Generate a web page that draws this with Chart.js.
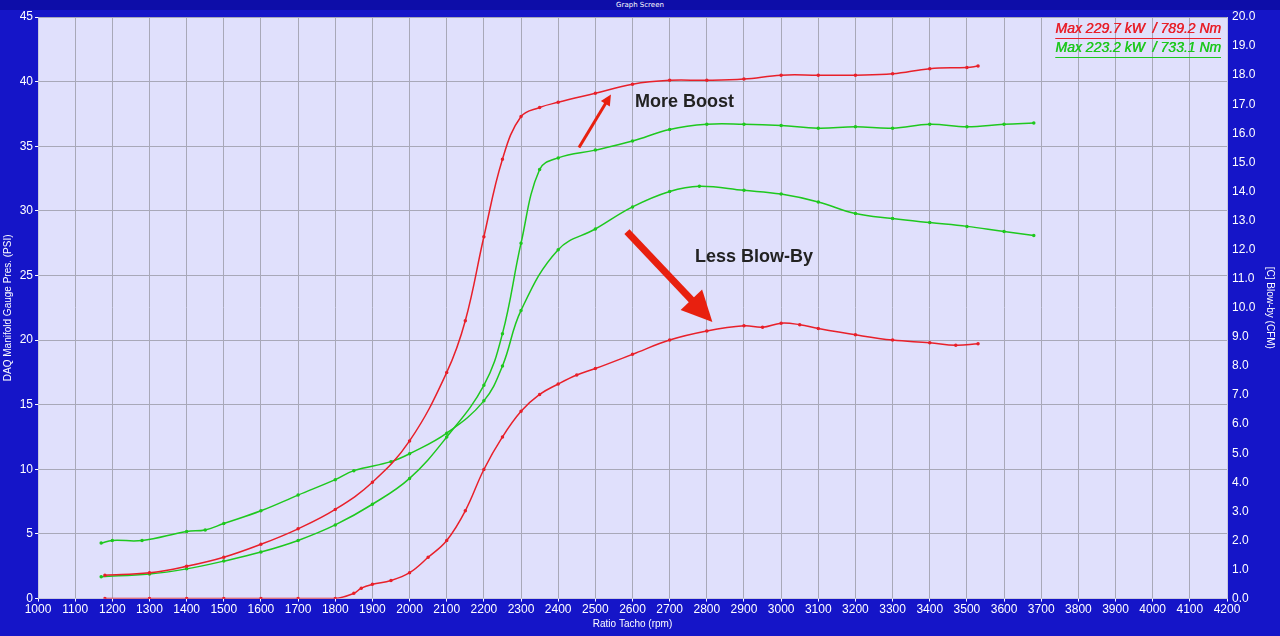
<!DOCTYPE html>
<html>
<head>
<meta charset="utf-8">
<script src="https://cdn.jsdelivr.net/npm/chart.js@4"></script>
<style>
html, body { margin: 0; padding: 0; background: #1515c8; }
#bar { position: absolute; left: 0; top: 0; width: 1280px; height: 10px; background: #0d0da8;
  color: #fff; font: 7px "DejaVu Sans", sans-serif; text-align: center; line-height: 10px; }
#wrap { position: absolute; left: 0; top: 0; width: 1280px; height: 636px; }
</style>
</head>
<body>
<div id="wrap"><canvas id="c"></canvas></div>
<div id="bar">Graph Screen</div>
<script>
const rpmBoostRed = [1180, 1300, 1400, 1500, 1600, 1700, 1800, 1900, 2000, 2100, 2150, 2200, 2250, 2300, 2350, 2400, 2500, 2600, 2700, 2800, 2900, 3000, 3100, 3200, 3300, 3400, 3500, 3530];
const boostRed = [1.8, 2.0, 2.5, 3.2, 4.2, 5.4, 6.9, 9.0, 12.2, 17.5, 21.5, 28.0, 34.0, 37.3, 38.0, 38.4, 39.1, 39.8, 40.1, 40.1, 40.2, 40.5, 40.5, 40.5, 40.6, 41.0, 41.1, 41.2];

const rpmBoostGreen = [1170, 1300, 1400, 1500, 1600, 1700, 1800, 1900, 2000, 2100, 2200, 2250, 2300, 2350, 2400, 2500, 2600, 2700, 2800, 2900, 3000, 3100, 3200, 3300, 3400, 3500, 3600, 3680];
const boostGreen = [1.7, 1.9, 2.3, 2.9, 3.6, 4.5, 5.7, 7.3, 9.3, 12.5, 16.5, 20.5, 27.5, 33.2, 34.1, 34.7, 35.4, 36.3, 36.7, 36.7, 36.6, 36.4, 36.5, 36.4, 36.7, 36.5, 36.7, 36.8];

const rpmBlowGreen = [1170, 1200, 1280, 1400, 1450, 1500, 1600, 1700, 1800, 1850, 1950, 2000, 2100, 2200, 2250, 2300, 2400, 2500, 2600, 2700, 2780, 2900, 3000, 3100, 3200, 3300, 3400, 3500, 3600, 3680];
const blowGreen = [1.91, 2.0, 2.0, 2.31, 2.36, 2.58, 3.02, 3.56, 4.09, 4.4, 4.71, 4.98, 5.69, 6.8, 8.0, 9.91, 12.0, 12.71, 13.47, 14.0, 14.18, 14.04, 13.91, 13.64, 13.24, 13.07, 12.93, 12.8, 12.62, 12.49];

const rpmBlowRed = [1180, 1300, 1400, 1500, 1600, 1700, 1800, 1850, 1870, 1900, 1950, 2000, 2050, 2100, 2150, 2200, 2250, 2300, 2350, 2400, 2450, 2500, 2600, 2700, 2800, 2900, 2950, 3000, 3050, 3100, 3200, 3300, 3400, 3470, 3530];
const blowRed = [0, 0, 0, 0, 0, 0, 0, 0.18, 0.36, 0.49, 0.62, 0.89, 1.42, 2.0, 3.02, 4.44, 5.56, 6.44, 7.02, 7.38, 7.69, 7.91, 8.4, 8.89, 9.2, 9.38, 9.33, 9.47, 9.42, 9.29, 9.07, 8.89, 8.8, 8.71, 8.76];

const legendLines = ["Max 229.7 kW  / 789.2 Nm", "Max 223.2 kW  / 733.1 Nm"];

const red = "#e8202a", green = "#1ec81e";
const pts = (xs, ys) => xs.map((x, i) => ({ x: x, y: ys[i] }));

function arrow(ctx, x1, y1, x2, y2, w, head) {
    const a = Math.atan2(y2 - y1, x2 - x1);
    ctx.strokeStyle = ctx.fillStyle = "#e8200f";
    ctx.lineWidth = w;
    ctx.beginPath();
    ctx.moveTo(x1, y1);
    ctx.lineTo(x2 - Math.cos(a) * head * 0.8, y2 - Math.sin(a) * head * 0.8);
    ctx.stroke();
    ctx.beginPath();
    ctx.moveTo(x2, y2);
    ctx.lineTo(x2 - head * Math.cos(a - 0.45), y2 - head * Math.sin(a - 0.45));
    ctx.lineTo(x2 - head * Math.cos(a + 0.45), y2 - head * Math.sin(a + 0.45));
    ctx.closePath();
    ctx.fill();
}

const notes = {
    id: "notes",
    beforeDraw(chart) {
        const { ctx, chartArea: a } = chart;
        ctx.save();
        ctx.fillStyle = "#e0e0fc";
        ctx.fillRect(a.left, a.top, a.right - a.left, a.bottom - a.top);
        ctx.restore();
    },
    afterDatasetsDraw(chart) {
        const { ctx, scales: { x, y } } = chart;
        ctx.save();
        arrow(ctx, x.getPixelForValue(2456), y.getPixelForValue(34.9), x.getPixelForValue(2542), y.getPixelForValue(39.0), 3, 12);
        arrow(ctx, x.getPixelForValue(2585), y.getPixelForValue(28.4), x.getPixelForValue(2815), y.getPixelForValue(21.4), 7, 34);
        ctx.fillStyle = "#222";
        ctx.font = "bold 18px Arial, 'Liberation Sans', sans-serif";
        ctx.textBaseline = "middle";
        ctx.fillText("More Boost", x.getPixelForValue(2607), y.getPixelForValue(38.4));
        ctx.fillText("Less Blow-By", x.getPixelForValue(2768), y.getPixelForValue(26.4));
        ctx.font = "italic 14px Arial, 'Liberation Sans', sans-serif";
        ctx.textAlign = "right";
        const rx = chart.chartArea.right - 6;
        [[legendLines[0], red, 29], [legendLines[1], green, 48]].forEach(([t, c, ty]) => {
            ctx.fillStyle = c;
            ctx.fillText(t, rx, ty);
            ctx.fillText(t, rx + 0.5, ty);
            const w = ctx.measureText(t).width;
            ctx.fillRect(rx - w, ty + 9, w, 1);
        });
        ctx.restore();
    }
};

const line = (data, color, axis) => ({
    data: data, borderColor: color, backgroundColor: color, borderWidth: 1.5,
    pointRadius: 1, pointHoverRadius: 0, tension: 0.4, yAxisID: axis
});

new Chart(document.getElementById("c"), {
    type: "line",
    data: {
        datasets: [
            line(pts(rpmBoostRed, boostRed), red, "y"),
            line(pts(rpmBoostGreen, boostGreen), green, "y"),
            line(pts(rpmBlowGreen, blowGreen), green, "y2"),
            line(pts(rpmBlowRed, blowRed), red, "y2")
        ]
    },
    options: {
        responsive: true,
        maintainAspectRatio: false,
        animation: false,
        layout: { padding: { top: 17, left: 2, right: 4, bottom: 2 } },
        plugins: { legend: { display: false }, tooltip: { enabled: false } },
        scales: {
            x: {
                type: "linear", min: 1000, max: 4200,
                ticks: { stepSize: 100, color: "#fff", font: { size: 12 }, padding: 1, maxRotation: 0, autoSkip: false, callback: v => String(v) },
                grid: { color: "#a8a8b8", tickLength: 3, tickColor: "#fff" },
                border: { color: "#c8c8e0" },
                title: { display: true, text: "Ratio Tacho (rpm)", color: "#fff", font: { size: 10 }, padding: { top: 0, bottom: 4 } }
            },
            y: {
                min: 0, max: 45,
                ticks: { stepSize: 5, color: "#fff", font: { size: 12 }, padding: 2 },
                grid: { color: "#a8a8b8", tickLength: 3, tickColor: "#fff" },
                border: { color: "#c8c8e0" },
                afterFit(s) { s.width = 36; },
                title: { display: true, text: "DAQ Manifold Gauge Pres. (PSI)", color: "#fff", font: { size: 10 }, padding: 0 }
            },
            y2: {
                position: "right", min: 0, max: 20,
                ticks: { stepSize: 1, color: "#fff", font: { size: 12 }, padding: 2, callback: v => v.toFixed(1) },
                grid: { display: false, tickLength: 3, tickColor: "#fff" },
                border: { color: "#c8c8e0" },
                afterFit(s) { s.width = 49; },
                title: { display: true, text: "[C] Blow-by (CFM)", color: "#fff", font: { size: 10 }, padding: 0 }
            }
        }
    },
    plugins: [notes]
});
</script>
</body>
</html>
